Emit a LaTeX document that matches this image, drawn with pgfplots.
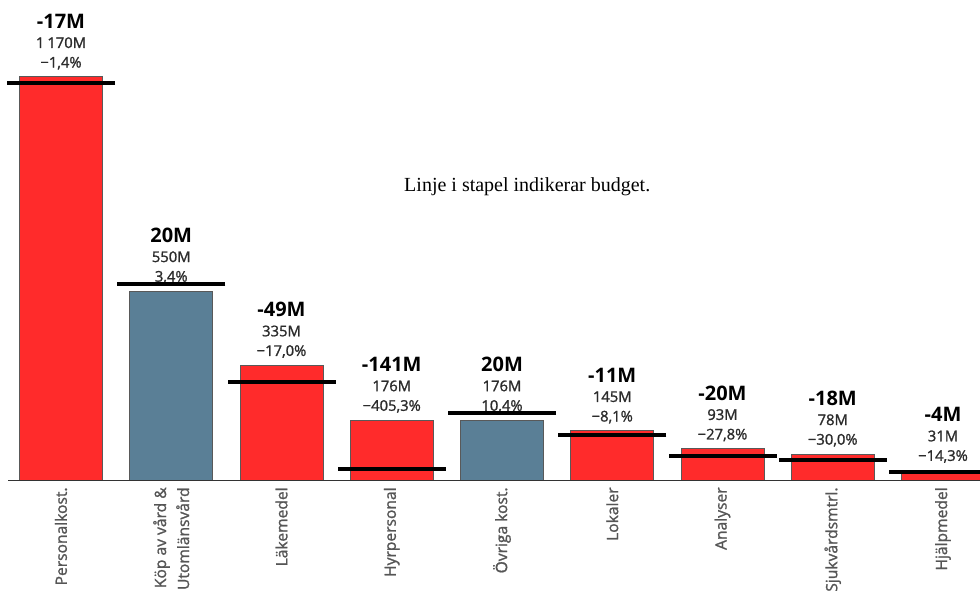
\documentclass[border=0pt]{standalone}
\usepackage{fontspec}
\setmainfont{Open Sans}
\newfontface\semib{Open Sans}[FakeBold=1.3]
\newfontfamily\notefont{Liberation Serif}
\usepackage{pgfplots}
\pgfplotsset{compat=1.18}
\definecolor{barred}{HTML}{FF2B2B}
\definecolor{barblue}{HTML}{5A7F96}
\definecolor{txt}{HTML}{2B2B2B}
\definecolor{ticktxt}{HTML}{555555}
\newcommand{\lab}[3]{{\fontsize{10}{12}\selectfont\bfseries #1}\\[0pt]{\semib\color{txt}#2}\\{\semib\color{txt}#3}}

\begin{document}
\begin{tikzpicture}
\begin{axis}[
  width=490pt, height=240.5pt, scale only axis,
  xmin=-0.5533, xmax=8.3356, ymin=0, ymax=1393,
  axis line style={draw=none}, major tick length=0pt,
  ytick=\empty, xtick={0,...,8},
  xticklabels={Personalkost., {Köp av vård \&\\Utomlänsvård}, Läkemedel, Hyrpersonal,
    Övriga kost., Lokaler, Analyser, Sjukvårdsmtrl., Hjälpmedel},
  xticklabel style={rotate=90, anchor=east, align=right, inner sep=0pt, text=ticktxt,
    font=\semib\fontsize{7.8}{11.5}\selectfont},
  xticklabel shift={3pt},
  point meta=explicit symbolic,
  every node near coord/.append style={anchor=south, yshift=3.5pt, align=center,
    inner sep=0pt, font=\fontsize{7.4}{9.8}\selectfont},
]
\coordinate (ll) at (rel axis cs:0,0);
\addplot[ybar, bar shift=0pt, bar width=41.5pt, fill=barred, draw=black!65, line width=0.5pt,
  nodes near coords] coordinates {
  (0,1170) [\lab{-17M}{1\kern1.5pt170M}{−1,4\%}]
  (2,335) [\lab{-49M}{335M}{−17,0\%}]
  (3,176) [\lab{-141M}{176M}{−405,3\%}]
  (5,145) [\lab{-11M}{145M}{−8,1\%}]
  (6,93) [\lab{-20M}{93M}{−27,8\%}]
  (7,78) [\lab{-18M}{78M}{−30,0\%}]
  (8,31) [\lab{-4M}{31M}{−14,3\%}]
};
\addplot[ybar, bar shift=0pt, bar width=41.5pt, fill=barblue, draw=black!65, line width=0.5pt,
  nodes near coords] coordinates {
  (1,550) [\lab{20M}{550M}{3,4\%}]
  (4,176) [\lab{20M}{176M}{10,4\%}]
};
% budget
\addplot[only marks, mark=-, mark size=27pt, mark options={line width=2pt, draw=black},
  point meta=none] coordinates {
  (0,1153) (1,570) (2,286) (3,35) (4,196) (5,134) (6,73) (7,60) (8,27)
};
\draw[line width=1pt, black!80] (axis cs:-0.48,0) -- (axis cs:8.34,0);
\node[font=\notefont\fontsize{10}{12}\selectfont] at (rel axis cs:0.538,0.611) {Linje i stapel indikerar budget.};
\end{axis}
\pgfresetboundingbox
\useasboundingbox (ll) ++(0,-56pt) rectangle ++(490pt,296.5pt);
\end{tikzpicture}
\end{document}
